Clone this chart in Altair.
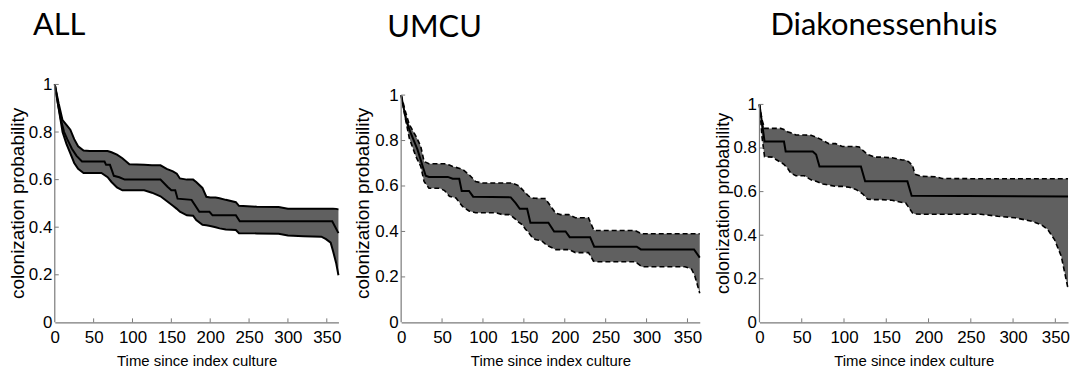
import altair as alt
import pandas as pd

# ---------------- data ----------------
titles = ["ALL", "UMCU", "Diakonessenhuis"]
x_ticks = [0, 50, 100, 150, 200, 250, 300, 350]
y_ticks = [0, 0.2, 0.4, 0.6, 0.8, 1]

# ALL
all_band_t = [0, 5, 10, 15, 20, 25, 30, 37, 45, 60, 68, 73, 80, 87, 96, 115, 125, 136, 144, 152,
              157, 161, 170, 178, 182, 190, 195, 200, 207, 212, 220, 233, 237, 260, 288, 300, 320,
              343, 349, 355, 358, 362, 365]
all_upper = [1.0, 0.92, 0.85, 0.83, 0.81, 0.77, 0.74, 0.722, 0.72, 0.72, 0.72, 0.715, 0.705, 0.69,
             0.665, 0.662, 0.66, 0.66, 0.645, 0.635, 0.625, 0.605, 0.60, 0.60, 0.59, 0.565, 0.528,
             0.525, 0.525, 0.522, 0.515, 0.505, 0.49, 0.486, 0.485, 0.478, 0.478, 0.478, 0.478,
             0.478, 0.478, 0.477, 0.475]
all_lower = [1.0, 0.90, 0.80, 0.75, 0.71, 0.67, 0.645, 0.628, 0.628, 0.628, 0.61, 0.59, 0.567,
             0.555, 0.555, 0.555, 0.545, 0.53, 0.51, 0.49, 0.477, 0.465, 0.45, 0.448, 0.43, 0.41,
             0.408, 0.405, 0.40, 0.395, 0.39, 0.388, 0.375, 0.374, 0.372, 0.365, 0.362, 0.36, 0.35,
             0.335, 0.30, 0.25, 0.198]
all_mid_t = [0, 4, 8, 12, 16, 22, 28, 35, 64, 66, 71, 76, 83, 90, 136, 145, 150, 155, 158, 176,
             186, 199, 203, 233, 238, 357, 365]
all_mid = [1.0, 0.92, 0.85, 0.80, 0.77, 0.73, 0.70, 0.676, 0.676, 0.662, 0.662, 0.616, 0.61, 0.60,
           0.60, 0.57, 0.555, 0.555, 0.52, 0.515, 0.465, 0.465, 0.45, 0.45, 0.425, 0.425, 0.375]

# UMCU
umcu_band_t = [0, 5, 10, 18, 24, 28, 34, 47, 53, 59, 63, 67, 75, 83, 91, 99, 116, 124, 132, 136,
               140, 144, 148, 152, 156, 160, 164, 172, 176, 180, 189, 195, 205, 213, 229, 235, 237,
               286, 294, 347, 355, 359, 365]
umcu_upper = [1.0, 0.93, 0.87, 0.82, 0.774, 0.708, 0.698, 0.698, 0.698, 0.692, 0.686, 0.682, 0.674,
              0.65, 0.62, 0.613, 0.613, 0.613, 0.613, 0.613, 0.607, 0.60, 0.585, 0.57, 0.555, 0.547,
              0.546, 0.545, 0.545, 0.525, 0.48, 0.474, 0.474, 0.46, 0.46, 0.41, 0.404, 0.404, 0.39,
              0.39, 0.39, 0.39, 0.39]
umcu_lower = [1.0, 0.90, 0.81, 0.73, 0.686, 0.62, 0.59, 0.59, 0.58, 0.555, 0.55, 0.547, 0.51, 0.49,
              0.482, 0.482, 0.482, 0.474, 0.474, 0.465, 0.453, 0.44, 0.43, 0.41, 0.394, 0.375,
              0.365, 0.358, 0.345, 0.336, 0.32, 0.32, 0.32, 0.307, 0.307, 0.27, 0.267, 0.267, 0.245,
              0.245, 0.234, 0.204, 0.128]
umcu_mid_t = [0, 6, 12, 20, 26, 30, 34, 57, 63, 71, 74, 83, 88, 134, 140, 145, 154, 158, 180, 187,
              201, 206, 231, 236, 288, 293, 358, 365]
umcu_mid = [1.0, 0.89, 0.83, 0.76, 0.69, 0.645, 0.64, 0.64, 0.632, 0.632, 0.578, 0.578, 0.553,
            0.55, 0.525, 0.50, 0.50, 0.438, 0.438, 0.40, 0.40, 0.375, 0.375, 0.333, 0.333, 0.321,
            0.321, 0.285]

# Diakonessenhuis
diak_band_t = [0, 3, 6, 16, 20, 25, 29, 33, 37, 43, 53, 61, 67, 75, 82, 90, 98, 106, 114, 118,
               122, 128, 137, 145, 157, 169, 173, 177, 181, 184, 192, 208, 216, 262, 282, 302, 322,
               333, 341, 349, 357, 365]
diak_upper = [1.0, 0.93, 0.89, 0.89, 0.89, 0.89, 0.885, 0.875, 0.87, 0.86, 0.86, 0.858, 0.85,
              0.835, 0.82, 0.82, 0.807, 0.807, 0.807, 0.805, 0.79, 0.77, 0.758, 0.758, 0.755,
              0.745, 0.745, 0.735, 0.72, 0.68, 0.67, 0.668, 0.66, 0.659, 0.659, 0.659, 0.659,
              0.659, 0.659, 0.659, 0.659, 0.659]
diak_lower = [1.0, 0.85, 0.76, 0.758, 0.746, 0.735, 0.725, 0.708, 0.685, 0.673, 0.673, 0.654,
              0.647, 0.635, 0.63, 0.624, 0.624, 0.62, 0.61, 0.60, 0.59, 0.565, 0.563, 0.563, 0.56,
              0.55, 0.548, 0.525, 0.502, 0.497, 0.496, 0.496, 0.496, 0.496, 0.487, 0.48, 0.464,
              0.449, 0.426, 0.38, 0.304, 0.155]
diak_mid_t = [0, 6, 29, 31, 63, 67, 71, 120, 125, 175, 180, 365]
diak_mid = [1.0, 0.83, 0.83, 0.784, 0.784, 0.77, 0.715, 0.715, 0.647, 0.647, 0.581, 0.578]

# ---------------- styling ----------------
H = 240
AXC = "#7a7a7a"
FILL = "#606060"
ARIAL = "Liberation Sans"


def panel(title, band_t, lo, hi, mid_t, mid, width, ytop, dashed, ytitle_size,
          title_dx, title_offset, ytitle_pad):
    band = pd.DataFrame({"t": band_t, "lo": lo, "hi": hi})
    mid_df = pd.DataFrame({"t": mid_t, "m": mid})
    xs = alt.Scale(domain=[0, 365], nice=False, zero=False)
    ys = alt.Scale(domain=[0, ytop], nice=False, zero=False)
    xax = alt.Axis(values=x_ticks, ticks=False, grid=False, domainColor=AXC, domainWidth=1.2,
                   labelFont=ARIAL, labelFontSize=17, labelColor="black", labelPadding=7,
                   labelFlush=False, title="Time since index culture", titleFont=ARIAL,
                   titleFontSize=15, titleFontWeight="normal", titleColor="black", titlePadding=8)
    yax = alt.Axis(values=y_ticks, format="~g", ticks=False, grid=False, domain=False,
                   labelFont=ARIAL, labelFontSize=17, labelColor="black", labelPadding=3,
                   title="colonization probability", titleFont=ARIAL, titleFontSize=ytitle_size,
                   titleFontWeight="normal", titleColor="black", titlePadding=ytitle_pad)

    def X(f):
        return alt.X(f, scale=xs, axis=xax)

    def Y(f):
        return alt.Y(f, scale=ys, axis=yax)

    area = alt.Chart(band).mark_area(color=FILL).encode(x=X("t:Q"), y=Y("lo:Q"), y2="hi:Q")
    if dashed:
        kw = dict(color="black", strokeWidth=1.6, strokeDash=[5, 3])
    else:
        kw = dict(color="black", strokeWidth=2)
    up = alt.Chart(band).mark_line(**kw).encode(x=X("t:Q"), y=Y("hi:Q"))
    low = alt.Chart(band).mark_line(**kw).encode(x=X("t:Q"), y=Y("lo:Q"))
    midl = alt.Chart(mid_df).mark_line(color="black", strokeWidth=2).encode(
        x=X("t:Q"), y=Y("m:Q"))
    ax_df = pd.DataFrame({"t": [0], "y0": [0], "y1": [1]})
    yline = alt.Chart(ax_df).mark_rule(color=AXC, strokeWidth=1.2).encode(
        x=X("t:Q"), y=Y("y0:Q"), y2="y1:Q")
    xt = alt.Chart(pd.DataFrame({"t": x_ticks[1:]})).mark_rule(color=AXC).encode(
        x=X("t:Q"), y=alt.value(H), y2=alt.value(H - 4))
    yt = alt.Chart(pd.DataFrame({"v": y_ticks[1:]})).mark_rule(color=AXC).encode(
        y=Y("v:Q"), x=alt.value(0), x2=alt.value(4))
    return alt.layer(area, up, low, midl, yline, xt, yt).properties(
        width=width, height=H,
        title=alt.TitleParams(title, anchor="start", frame="group", font="Lato", fontSize=31,
                              fontWeight="normal", color="black",
                              dx=title_dx, offset=title_offset))


p1 = panel(titles[0], all_band_t, all_lower, all_upper, all_mid_t, all_mid,
           285, 1.004, False, 19, -22, 34, 1)
p2 = panel(titles[1], umcu_band_t, umcu_lower, umcu_upper, umcu_mid_t, umcu_mid,
           300, 1.051, True, 19, -14, 40, 2)
p3 = panel(titles[2], diak_band_t, diak_lower, diak_upper, diak_mid_t, diak_mid,
           310, 1.096, True, 18, 11, 42, 0)

chart = alt.hconcat(p1, p2, p3, spacing=11).properties(
    padding={"left": 0, "top": 0, "right": 0, "bottom": 0}
).configure_view(stroke=None)

chart.save("out.html", embed_options={"renderer": "svg", "actions": False})
